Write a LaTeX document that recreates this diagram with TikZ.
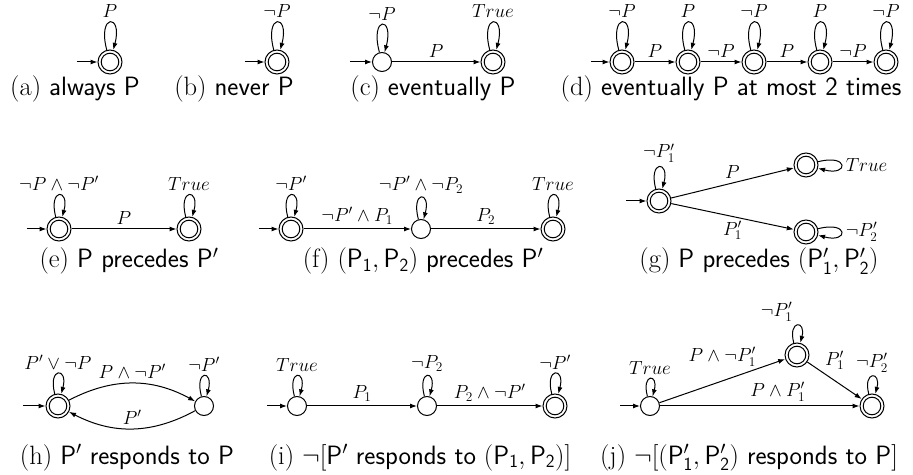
\RequirePackage{fix-cm}
\documentclass[tikz,border=0pt]{standalone}
\usetikzlibrary{arrows.meta}
\begin{document}
\begin{tikzpicture}[x=1pt,y=1pt,
  >={Latex[length=7pt,width=5pt]},
  st/.style={circle,draw,line width=1pt,minimum size=19pt,inner sep=0pt},
  acc/.style={st,minimum size=24pt,path picture={\draw[line width=1pt] (path picture bounding box.center) circle[radius=8.8pt];}},
  lbl/.style={font=\fontsize{19}{22}\selectfont,inner sep=4pt},
  capt/.style={font=\fontsize{26.5}{30}\selectfont,anchor=base,inner sep=0pt},
  tr/.style={->,line width=1pt}]
\useasboundingbox (0,0) rectangle (913,474);
% ---------- (a)
\node[acc] (a1) at (110,412) {};
\coordinate (a0) at (77,412);
\draw[tr] (a0) -- (a1);
\draw[tr] (a1.105) to[out=105,in=75,min distance=38pt] node[lbl,above]{$P$} (a1.75);
\node[capt] (ca) at (75,378) {(a) \textsf{always P}};
% ---------- (b)
\node[acc] (b1) at (277,412) {};
\coordinate (b0) at (245,412);
\draw[tr] (b0) -- (b1);
\draw[tr] (b1.105) to[out=105,in=75,min distance=38pt] node[lbl,above]{$\neg P$} (b1.75);
\node[capt] (cb) at (234,378) {(b) \textsf{never P}};
% ---------- (c)
\node[st] (c1) at (382,412) {};
\node[acc] (c2) at (493,412) {};
\coordinate (c0) at (350,412);
\draw[tr] (c0) -- (c1);
\draw[tr] (c1) -- node[lbl,above]{$P$} (c2);
\draw[tr] (c1.105) to[out=105,in=75,min distance=38pt] node[lbl,above]{$\neg P$} (c1.75);
\draw[tr] (c2.105) to[out=105,in=75,min distance=38pt] node[lbl,above]{$True$} (c2.75);
\node[capt] (cc) at (433,378) {(c) \textsf{eventually P}};
% ---------- (d)
\node[acc] (d1) at (622,412) {};
\node[acc] (d2) at (688,412) {};
\node[acc] (d3) at (754,412) {};
\node[acc] (d4) at (820,412) {};
\node[acc] (d5) at (886,412) {};
\coordinate (d0) at (591,412);
\draw[tr] (d0) -- (d1);
\draw[tr] (d1) -- node[lbl,above]{$P$} (d2);
\draw[tr] (d2) -- node[lbl,above]{$\neg P$} (d3);
\draw[tr] (d3) -- node[lbl,above]{$P$} (d4);
\draw[tr] (d4) -- node[lbl,above]{$\neg P$} (d5);
\draw[tr] (d1.105) to[out=105,in=75,min distance=38pt] node[lbl,above]{$\neg P$} (d1.75);
\draw[tr] (d2.105) to[out=105,in=75,min distance=38pt] node[lbl,above]{$P$} (d2.75);
\draw[tr] (d3.105) to[out=105,in=75,min distance=38pt] node[lbl,above]{$\neg P$} (d3.75);
\draw[tr] (d4.105) to[out=105,in=75,min distance=38pt] node[lbl,above]{$P$} (d4.75);
\draw[tr] (d5.105) to[out=105,in=75,min distance=38pt] node[lbl,above]{$\neg P$} (d5.75);
\node[capt] (cd) at (731,378) {(d) \textsf{eventually P at most 2 times}};
% ---------- (e)
\node[acc] (e1) at (59,245) {};
\node[acc] (e2) at (189,245) {};
\coordinate (e0) at (27,245);
\draw[tr] (e0) -- (e1);
\draw[tr] (e1) -- node[lbl,above]{$P$} (e2);
\draw[tr] (e1.105) to[out=105,in=75,min distance=30pt] node[lbl,above]{$\neg P\wedge\neg P'$} (e1.75);
\draw[tr] (e2.105) to[out=105,in=75,min distance=30pt] node[lbl,above]{$True$} (e2.75);
\node[capt] (ce) at (129,206) {(e) \textsf{P precedes P}$'$};
% ---------- (f)
\node[acc] (f1) at (291,245) {};
\node[st] (f2) at (421,245) {};
\node[acc] (f3) at (553,245) {};
\coordinate (f0) at (259,245);
\draw[tr] (f0) -- (f1);
\draw[tr] (f1) -- node[lbl,above]{$\neg P'\wedge P_1$} (f2);
\draw[tr] (f2) -- node[lbl,above]{$P_2$} (f3);
\draw[tr] (f1.105) to[out=105,in=75,min distance=30pt] node[lbl,above]{$\neg P'$} (f1.75);
\draw[tr] (f2.105) to[out=105,in=75,min distance=30pt] node[lbl,above]{$\neg P'\wedge\neg P_2$} (f2.75);
\draw[tr] (f3.105) to[out=105,in=75,min distance=30pt] node[lbl,above]{$True$} (f3.75);
\node[capt] (cf) at (423,206) {(f) $(\mathsf{P}_{\mathsf{1}},\mathsf{P}_{\mathsf{2}})$ \textsf{precedes P}$'$};
% ---------- (g)
\node[acc] (g1) at (659,273) {};
\node[acc] (g2) at (806,309) {};
\node[acc] (g3) at (806,242) {};
\coordinate (g0) at (626,273);
\draw[tr] (g0) -- (g1);
\draw[tr] (g1) -- node[lbl,above]{$P$} (g2);
\draw[tr] (g1) -- node[lbl,below]{$P'_1$} (g3);
\draw[tr] (g1.105) to[out=105,in=75,min distance=30pt] node[lbl,above]{$\neg P'_1$} (g1.75);
\draw[tr] (g2.15) to[out=15,in=-15,min distance=32pt] node[lbl,right]{$True$} (g2.-15);
\draw[tr] (g3.15) to[out=15,in=-15,min distance=32pt] node[lbl,right]{$\neg P'_2$} (g3.-15);
\node[capt] (cg) at (759,206) {(g) \textsf{P precedes} $(\mathsf{P}'_{\mathsf{1}},\mathsf{P}'_{\mathsf{2}})$};
% ---------- (h)
\node[acc] (h1) at (58,68) {};
\node[st] (h2) at (204,68) {};
\coordinate (h0) at (23,68);
\draw[tr] (h0) -- (h1);
\draw[tr] (h1) to[bend left=28] node[lbl,above]{$P\wedge\neg P'$} (h2);
\draw[tr] (h2) to[bend left=28] node[lbl,above]{$P'$} (h1);
\draw[tr] (h1.105) to[out=105,in=75,min distance=28pt] node[lbl,above]{$P'\vee\neg P$} (h1.75);
\draw[tr] (h2.105) to[out=105,in=75,min distance=28pt] node[lbl,above]{$\neg P'$} (h2.75);
\node[capt] (ch) at (127,10) {(h) \textsf{P}$'$ \textsf{responds to P}};
% ---------- (i)
\node[st] (i1) at (297,68) {};
\node[st] (i2) at (427,68) {};
\node[acc] (i3) at (555,68) {};
\coordinate (i0) at (267,68);
\draw[tr] (i0) -- (i1);
\draw[tr] (i1) -- node[lbl,above]{$P_1$} (i2);
\draw[tr] (i2) -- node[lbl,above]{$P_2\wedge\neg P'$} (i3);
\draw[tr] (i1.105) to[out=105,in=75,min distance=28pt] node[lbl,above]{$True$} (i1.75);
\draw[tr] (i2.105) to[out=105,in=75,min distance=28pt] node[lbl,above]{$\neg P_2$} (i2.75);
\draw[tr] (i3.105) to[out=105,in=75,min distance=28pt] node[lbl,above]{$\neg P'$} (i3.75);
\node[capt] (ci) at (420,10) {(i) $\neg[\mathsf{P}'$ \textsf{responds to} $(\mathsf{P}_{\mathsf{1}},\mathsf{P}_{\mathsf{2}})]$};
% ---------- (j)
\node[st] (j1) at (650,68) {};
\node[acc] (j2) at (797,119) {};
\node[acc] (j3) at (872,68) {};
\coordinate (j0) at (620,68);
\draw[tr] (j0) -- (j1);
\draw[tr] (j1) -- node[lbl,above=10pt]{$P\wedge\neg P'_1$} (j2);
\draw[tr] (j2) -- node[lbl,above=6pt]{$P'_1$} (j3);
\draw[tr] (j1) -- node[lbl,above,pos=0.59]{$P\wedge P'_1$} (j3);
\draw[tr] (j1.105) to[out=105,in=75,min distance=24pt] node[lbl,above]{$True$} (j1.75);
\draw[tr] (j2.105) to[out=105,in=75,min distance=24pt] node[lbl,above left]{$\neg P'_1$} (j2.75);
\draw[tr] (j3.105) to[out=105,in=75,min distance=24pt] node[lbl,above]{$\neg P'_2$} (j3.75);
\node[capt] (cj) at (749,10) {(j) $\neg[(\mathsf{P}'_{\mathsf{1}},\mathsf{P}'_{\mathsf{2}})$ \textsf{responds to P}$]$};
\end{tikzpicture}
\end{document}
